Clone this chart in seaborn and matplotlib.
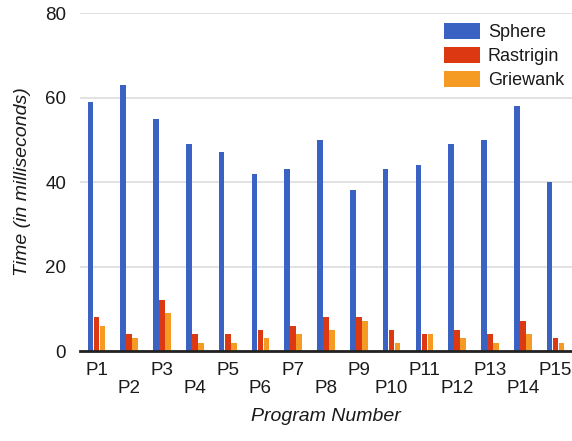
import matplotlib
matplotlib.use("Agg")
import matplotlib.pyplot as plt
import pandas as pd
import seaborn as sns

programs = [f"P{i}" for i in range(1, 16)]
sphere = [59, 63, 55, 49, 47, 42, 43, 50, 38, 43, 44, 49, 50, 58, 40]
rastrigin = [8, 4, 12, 4, 4, 5, 6, 8, 8, 5, 4, 5, 4, 7, 3]
griewank = [6, 3, 9, 2, 2, 3, 4, 5, 7, 2, 4, 3, 2, 4, 2]
series = ["Sphere", "Rastrigin", "Griewank"]
colors = ["#3a62c2", "#dc3912", "#f59a23"]

df = pd.DataFrame({
    "Program": programs * 3,
    "Function": [s for s in series for _ in programs],
    "Time": sphere + rastrigin + griewank,
})

sns.set_theme(style="white")
plt.rcParams["font.family"] = ["Liberation Sans", "DejaVu Sans"]
plt.rcParams["text.color"] = "#1a1a1a"

fig = plt.figure(figsize=(5.72, 4.41), dpi=100)
ax = fig.add_axes([0.14, 0.204, 0.86, 0.7665])

sns.barplot(data=df, x="Program", y="Time", hue="Function", hue_order=series,
            palette=colors, width=0.55, gap=0.05, saturation=1, ax=ax,
            edgecolor="none", legend=True)

ax.set_xlim(-0.5, 14.5)
ax.set_ylim(0, 80)
ax.set_yticks([0, 20, 40, 60, 80])
ax.yaxis.grid(True, color="#dddddd", linewidth=1.2)
ax.set_axisbelow(True)
for side in ["top", "right", "left"]:
    ax.spines[side].set_visible(False)
ax.spines["bottom"].set_color("#222222")
ax.spines["bottom"].set_linewidth(2)

# staggered labels: even programs drop to a second row
labels = [p if i % 2 == 0 else "\n" + p for i, p in enumerate(programs)]
ax.set_xticks(range(len(programs)))
ax.set_xticklabels(labels, fontsize=13.5, linespacing=1.05, color="#1a1a1a")
ax.tick_params(axis="x", length=0, pad=8)
ax.tick_params(axis="y", length=0, pad=10, labelsize=13.5, labelcolor="#1a1a1a")

ax.set_xlabel("Program Number", fontsize=14, style="italic", labelpad=8, color="#1a1a1a")
ax.set_ylabel("Time (in milliseconds)", fontsize=14, style="italic", labelpad=10, color="#1a1a1a")

ax.legend(loc="upper left", bbox_to_anchor=(0.706, 1.018), frameon=False,
          fontsize=13, handlelength=2.0, handleheight=0.95,
          labelspacing=0.33, handletextpad=0.45)

fig.savefig("out.png", dpi=100)
